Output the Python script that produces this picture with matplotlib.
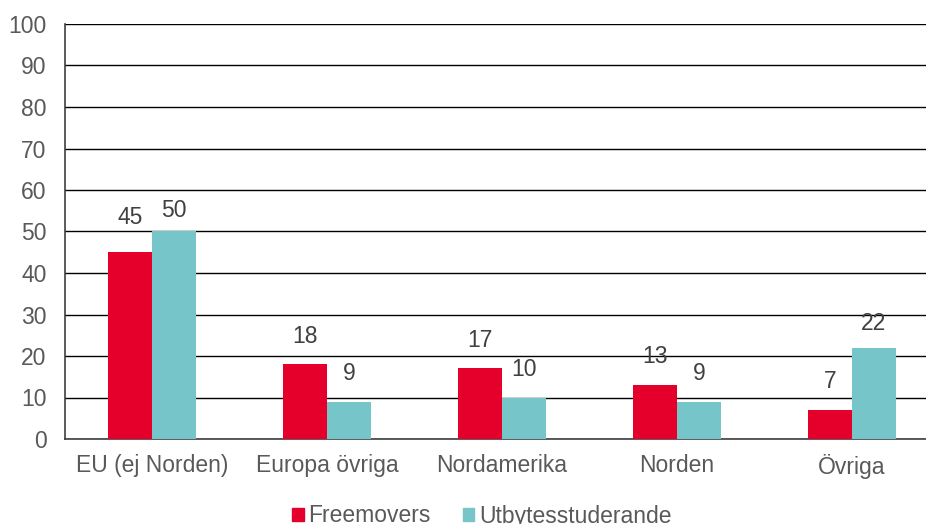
import matplotlib
matplotlib.use("Agg")
import matplotlib.pyplot as plt
from matplotlib.patches import Patch
import numpy as np

categories = ["EU (ej Norden)", "Europa övriga", "Nordamerika", "Norden", "Övriga"]
freemovers = [45, 18, 17, 13, 7]
utbyte = [50, 9, 10, 9, 22]
series_names = ["Freemovers", "Utbytesstuderande"]
yticks = list(range(0, 101, 10))

# label offsets above bars (points), as placed in the original
off_free = [17, 12, 12, 12, 12]
off_utb = [7, 12, 12, 12, 9]

RED = "#E4002B"
TEAL = "#76C5C8"
GRAY = "#595959"
FS = 16.5

plt.rcParams['font.family'] = ['Liberation Sans', 'DejaVu Sans']
fig = plt.figure(figsize=(9.26, 5.24), dpi=100)
W, H = 926, 524
left, right = 64.5, 939.5
top, bottom = 24, 439
ax = fig.add_axes([left / W, 1 - bottom / H, (right - left) / W, (bottom - top) / H])

x = np.arange(len(categories))
w = 0.25
b1 = ax.bar(x - w / 2, freemovers, w, color=RED, zorder=3)
b2 = ax.bar(x + w / 2, utbyte, w, color=TEAL, zorder=3)
for bars, offs in ((b1, off_free), (b2, off_utb)):
    for r, o in zip(bars, offs):
        ax.annotate(f"{int(r.get_height())}", (r.get_x() + r.get_width() / 2, r.get_height()),
                    xytext=(0, o), textcoords="offset points", ha="center", va="bottom",
                    fontsize=FS, color="#404040")

ax.set_xlim(-0.5, len(categories) - 0.5)
ax.set_ylim(0, 100)
ax.set_yticks(yticks)
ax.set_yticklabels([str(t) for t in yticks])
ax.set_xticks(x)
ax.set_xticklabels(categories)
ax.tick_params(axis='both', length=0, labelsize=FS, labelcolor=GRAY)
ax.tick_params(axis='y', pad=13)
ax.tick_params(axis='x', pad=11)
ax.yaxis.grid(True, color="black", linewidth=1.0, zorder=0)
ax.set_axisbelow(True)
for s in ("top", "right"):
    ax.spines[s].set_visible(False)
ax.spines["left"].set_color("#404040")
ax.spines["bottom"].set_color("#404040")
ax.spines["left"].set_linewidth(1.2)
ax.spines["bottom"].set_linewidth(1.2)

handles = [Patch(color=RED), Patch(color=TEAL)]
fig.legend(handles, series_names, loc="center", bbox_to_anchor=(482 / W, 1 - 516 / H),
           ncol=2, frameon=False, fontsize=FS, labelcolor=GRAY,
           handlelength=0.5, handleheight=0.5, handletextpad=0.2, columnspacing=1.4)

fig.savefig("out.png", dpi=100)
